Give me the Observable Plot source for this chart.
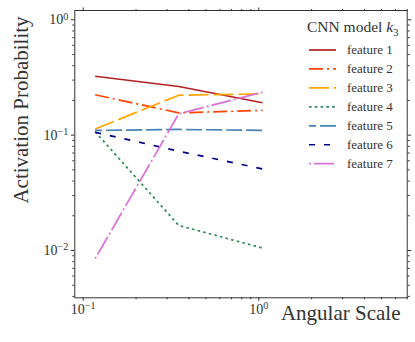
<!DOCTYPE html>
<html><head><meta charset="utf-8">
<script src="https://cdn.jsdelivr.net/npm/d3@7"></script>
<script src="https://cdn.jsdelivr.net/npm/@observablehq/plot@0.6"></script>
<style>
body{margin:0;background:#fff}
#wrap{position:relative;width:415px;height:342px;font-family:"Liberation Serif",serif}
#wrap text{font-family:"Liberation Serif",serif}
</style></head><body><div id="wrap"></div>
<script>
// ---- data ----
const scales = [0.117, 0.35, 1.05];
const featureNames = ["feature 1","feature 2","feature 3","feature 4","feature 5","feature 6","feature 7"];
const feature1 = [0.324, 0.264, 0.191];
const feature2 = [0.224, 0.156, 0.164];
const feature3 = [0.113, 0.222, 0.228];
const feature4 = [0.107, 0.0165, 0.0105];
const feature5 = [0.110, 0.112, 0.110];
const feature6 = [0.106, 0.0726, 0.051];
const feature7 = [0.0085, 0.153, 0.236];
const featureValues = [feature1, feature2, feature3, feature4, feature5, feature6, feature7];
const xMajorTicks = [0.1, 1];
const xTickLabels = ["10^−1", "10^0"];
const xMinorTicks = [0.2,0.3,0.4,0.5,0.6,0.7,0.8,0.9,2,3,4,5,6,7];
const yMajorTicks = [0.01, 0.1, 1];
const yTickLabels = ["10^−2", "10^−1", "10^0"];
const yMinorTicks = [0.004,0.005,0.006,0.007,0.008,0.009,0.02,0.03,0.04,0.05,0.06,0.07,0.08,0.09,0.2,0.3,0.4,0.5,0.6,0.7,0.8,0.9];
const legendTitle = "CNN model ";
const xLabel = "Angular Scale";
const yLabel = "Activation Probability";

// ---- styles ----
const colors = ["#b22222","#ff4500","#ffa500","#2e8b57","#4682b4","#00008b","#da70d6"];
const dashes = [null, "14,4,2,4", "20,5", "2.6,3.2", "16,4", "6,9", "20,3,2,3"];
const dashOffsets = [0, 0, 0, 0, 9, 0, 23];
const ink = "#333";

const rows = [];
featureNames.forEach((f, i) => scales.forEach((s, j) => rows.push({feature: f, scale: s, p: featureValues[i][j]})));

const lineMarks = featureNames.map((f, i) => Plot.line(rows.filter(r => r.feature === f), {
  x: "scale", y: "p", stroke: colors[i], strokeWidth: 1.7,
  strokeDasharray: dashes[i] || undefined, strokeDashoffset: dashOffsets[i], strokeLinecap: "butt"
}));

const fmtX = d => xTickLabels[xMajorTicks.indexOf(d)];
const fmtY = d => yTickLabels[yMajorTicks.indexOf(d)];
const blank = () => "";

const chart = Plot.plot({
  width: 415, height: 342,
  marginLeft: 74.3, marginRight: 8.3, marginTop: 10, marginBottom: 44.7,
  x: {type: "log", domain: [0.0896, 7.0]},
  y: {type: "log", domain: [0.00389, 1.204]},
  style: {fontFamily: "'Liberation Serif', serif", color: ink, background: "white"},
  marks: [
    ...lineMarks,
    Plot.frame({stroke: ink, strokeWidth: 1}),
    Plot.axisX(xMajorTicks, {anchor: "bottom", tickSize: 3.5, tickPadding: 2.5, tickFormat: fmtX, fontSize: 14, label: null, stroke: ink}),
    Plot.axisX(xMinorTicks, {anchor: "bottom", tickSize: 2, tickFormat: blank, label: null, stroke: ink}),
    Plot.axisX(xMajorTicks, {anchor: "top", tickSize: 3.5, tickFormat: blank, label: null, stroke: ink}),
    Plot.axisX(xMinorTicks, {anchor: "top", tickSize: 2, tickFormat: blank, label: null, stroke: ink}),
    Plot.axisY(yMajorTicks, {anchor: "left", tickSize: 3.5, tickPadding: 3, tickFormat: fmtY, fontSize: 14, label: null, stroke: ink}),
    Plot.axisY(yMinorTicks, {anchor: "left", tickSize: 2, tickFormat: blank, label: null, stroke: ink}),
    Plot.axisY(yMajorTicks, {anchor: "right", tickSize: 3.5, tickFormat: blank, label: null, stroke: ink}),
    Plot.axisY(yMinorTicks, {anchor: "right", tickSize: 2, tickFormat: blank, label: null, stroke: ink}),
    Plot.text([xLabel], {frameAnchor: "bottom-right", textAnchor: "end", dx: -6.7, dy: 22.3, fontSize: 21, fill: ink})
  ]
});

// superscript exponents in tick labels
d3.select(chart).selectAll("text").each(function() {
  const t = this.textContent;
  if (t.includes("^")) {
    const [base, exp] = t.split("^");
    const sel = d3.select(this);
    sel.text(null);
    sel.append("tspan").text(base);
    sel.append("tspan").attr("dy", "-0.45em").attr("font-size", "0.72em").text(exp);
  }
});

const wrap = document.getElementById("wrap");
wrap.appendChild(chart);

// overlay: y-axis label and legend
const leg = d3.select(wrap).append("svg")
  .attr("width", 415).attr("height", 342)
  .style("position", "absolute").style("left", "0px").style("top", "0px")
  .style("pointer-events", "none")
  .attr("font-family", "'Liberation Serif', serif");
leg.append("text").attr("transform", "translate(28,110) rotate(-90)")
  .attr("text-anchor", "middle").attr("font-size", 21).attr("fill", ink).text(yLabel);
const title = leg.append("text").attr("x", 307).attr("y", 32.3).attr("font-size", 15.5).attr("fill", ink);
title.append("tspan").text(legendTitle);
title.append("tspan").attr("font-style", "italic").text("k");
title.append("tspan").attr("dy", "0.3em").attr("font-size", "0.72em").text("3");
featureNames.forEach((f, i) => {
  const y = 50 + 18.95 * i;
  leg.append("line").attr("x1", 309).attr("x2", 336).attr("y1", y).attr("y2", y)
    .attr("stroke", colors[i]).attr("stroke-width", 1.7)
    .attr("stroke-dasharray", dashes[i]).attr("stroke-dashoffset", dashOffsets[i]);
  leg.append("text").attr("x", 347).attr("y", y + 4.3).attr("font-size", 13).attr("fill", ink).text(f);
});
</script></body></html>
